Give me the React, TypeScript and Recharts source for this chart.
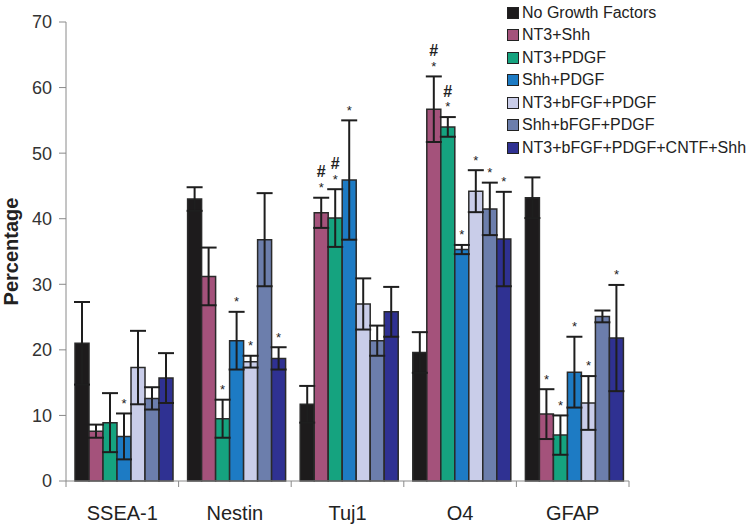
import { BarChart, Bar, XAxis, YAxis, ErrorBar, LabelList, Legend } from "recharts";

const FONT = '"Liberation Sans", Arial, Helvetica, sans-serif';

const categories = ["SSEA-1", "Nestin", "Tuj1", "O4", "GFAP"];
const yTicks = [0, 10, 20, 30, 40, 50, 60, 70];

const seriesNames = [
  "No Growth Factors",
  "NT3+Shh",
  "NT3+PDGF",
  "Shh+PDGF",
  "NT3+bFGF+PDGF",
  "Shh+bFGF+PDGF",
  "NT3+bFGF+PDGF+CNTF+Shh",
];
const seriesColors = ["#1d1b1c", "#a4527b", "#15a37f", "#1d7bc4", "#c9cde9", "#6c7eac", "#2f3192"];

// mean values per marker, in category order
const noGrowth = [21.0, 43.0, 11.7, 19.6, 43.2];
const nt3Shh = [7.6, 31.2, 40.9, 56.7, 10.2];
const nt3Pdgf = [8.9, 9.5, 40.1, 54.0, 7.0];
const shhPdgf = [6.8, 21.4, 45.9, 35.3, 16.6];
const nt3BfgfPdgf = [17.3, 18.2, 27.0, 44.2, 11.9];
const shhBfgfPdgf = [12.6, 36.8, 21.4, 41.5, 25.1];
const allFactors = [15.7, 18.7, 25.8, 36.9, 21.8];

// error bar half-heights
const noGrowthErr = [6.3, 1.8, 2.8, 3.1, 3.1];
const nt3ShhErr = [1.0, 4.4, 2.3, 5.0, 3.8];
const nt3PdgfErr = [4.5, 2.9, 4.4, 1.5, 3.0];
const shhPdgfErr = [3.5, 4.4, 9.1, 0.7, 5.4];
const nt3BfgfPdgfErr = [5.6, 0.9, 3.9, 3.2, 4.1];
const shhBfgfPdgfErr = [1.7, 7.1, 2.3, 4.0, 0.9];
const allFactorsErr = [3.8, 1.7, 3.8, 7.2, 8.1];

// significance markers
const noGrowthSig = ["", "", "", "", ""];
const nt3ShhSig = ["", "", "#*", "#*", "*"];
const nt3PdgfSig = ["", "*", "#*", "#*", "*"];
const shhPdgfSig = ["*", "*", "*", "*", "*"];
const nt3BfgfPdgfSig = ["", "*", "", "*", "*"];
const shhBfgfPdgfSig = ["", "", "", "*", ""];
const allFactorsSig = ["", "*", "", "*", "*"];

const values = [noGrowth, nt3Shh, nt3Pdgf, shhPdgf, nt3BfgfPdgf, shhBfgfPdgf, allFactors];
const errors = [noGrowthErr, nt3ShhErr, nt3PdgfErr, shhPdgfErr, nt3BfgfPdgfErr, shhBfgfPdgfErr, allFactorsErr];
const marks = [noGrowthSig, nt3ShhSig, nt3PdgfSig, shhPdgfSig, nt3BfgfPdgfSig, shhBfgfPdgfSig, allFactorsSig];

const rows = categories.map((name, ci) => {
  const row: Record<string, any> = { name };
  values.forEach((vals, si) => {
    row[`v${si}`] = vals[ci];
    row[`e${si}`] = errors[si][ci];
    row[`m${si}`] = marks[si][ci];
  });
  return row;
});

const AXIS = "#8a8a8a";

const XTick = (props: any) => {
  const { x, y, payload, index } = props;
  const band = (props.width || 563) / categories.length;
  return (
    <g>
      {index === 0 && <line x1={x - band / 2} x2={x - band / 2} y1={y} y2={y + 6} stroke={AXIS} />}
      <line x1={x + band / 2} x2={x + band / 2} y1={y} y2={y + 6} stroke={AXIS} />
      <text x={x} y={y + 39} textAnchor="middle" fontSize={20} fill="#222" fontFamily={FONT}>
        {payload.value}
      </text>
    </g>
  );
};

const renderYLabel = (props: any) => {
  const vb = props.viewBox || {};
  const cy = (vb.y ?? 22) + (vb.height ?? 459) / 2;
  return (
    <text
      x={18}
      y={cy}
      transform={`rotate(-90, 18, ${cy})`}
      textAnchor="middle"
      fontSize={20}
      fontWeight="bold"
      fill="#222"
      fontFamily={FONT}
    >
      Percentage
    </text>
  );
};

const markRenderer = (si: number) => (props: any) => {
  const { value, index } = props;
  if (!value) return null;
  const vb = props.viewBox || {};
  const x = props.x ?? vb.x;
  const y = props.y ?? vb.y;
  const w = props.width ?? vb.width;
  const h = props.height ?? vb.height;
  const row = rows[index];
  if (!row) return null;
  const errTop = y - (row[`e${si}`] * h) / row[`v${si}`];
  const cx = x + w / 2;
  const starY = errTop - 13;
  return (
    <g fontFamily={FONT} fill="#222">
      <text x={cx} y={starY + 0.57 * 13} fontSize={13} textAnchor="middle">
        *
      </text>
      {String(value).includes("#") && (
        <text x={cx} y={starY - 13 + 0.36 * 16} fontSize={16} fontWeight="bold" textAnchor="middle">
          #
        </text>
      )}
    </g>
  );
};

const renderLegend = () => (
  <div style={{ fontFamily: FONT, fontSize: 16, color: "#222" }}>
    {seriesNames.map((n, i) => (
      <div key={n} style={{ display: "flex", alignItems: "center", height: 22.5, whiteSpace: "nowrap" }}>
        <span
          style={{
            display: "inline-block",
            width: 10,
            height: 10,
            background: seriesColors[i],
            border: "1px solid #222",
            marginRight: 3,
          }}
        />
        {n}
      </div>
    ))}
  </div>
);

export default function App() {
  return (
    <div style={{ position: "absolute", left: 0, top: 0, background: "#fff" }}>
      <BarChart
        width={750}
        height={528}
        data={rows}
        margin={{ top: 22, right: 121, bottom: 17, left: 0 }}
        barCategoryGap="8%"
        barGap={0}
      >
        <XAxis
          dataKey="name"
          interval={0}
          height={30}
          tickSize={0}
          tickMargin={0}
          tickLine={false}
          axisLine={{ stroke: AXIS }}
          tick={<XTick />}
        />
        <YAxis
          domain={[0, 70]}
          ticks={yTicks}
          interval={0}
          width={66}
          tickSize={7}
          tickMargin={7}
          axisLine={{ stroke: AXIS }}
          tickLine={{ stroke: AXIS }}
          tick={{ fontSize: 18, fill: "#333", fontFamily: FONT }}
          label={{ position: "insideLeft", content: renderYLabel }}
        />
        <Legend
          layout="vertical"
          align="center"
          verticalAlign="middle"
          content={renderLegend}
          wrapperStyle={{ top: 1.5, left: 507, width: 243 }}
        />
        {seriesNames.map((n, si) => (
          <Bar
            key={n}
            dataKey={`v${si}`}
            name={n}
            fill={seriesColors[si]}
            stroke="#2a2a2a"
            strokeWidth={1.5}
            isAnimationActive={false}
          >
            <ErrorBar dataKey={`e${si}`} width={8} stroke="#1e1e1e" strokeWidth={2} />
            <LabelList dataKey={`m${si}`} content={markRenderer(si)} />
          </Bar>
        ))}
      </BarChart>
    </div>
  );
}
